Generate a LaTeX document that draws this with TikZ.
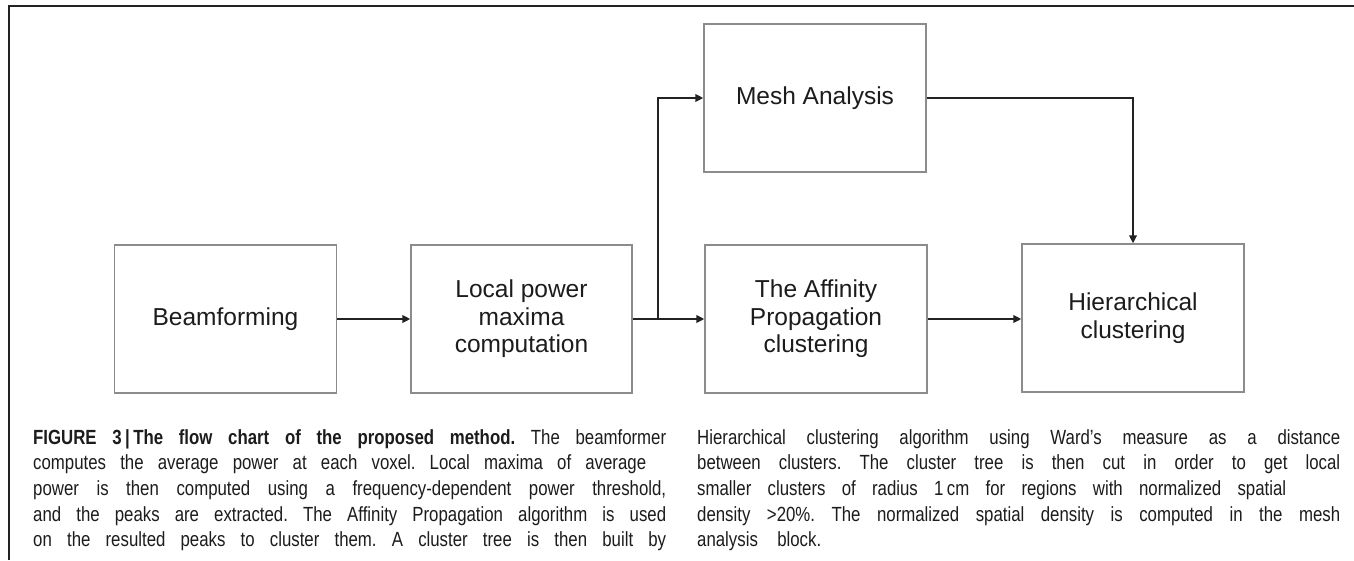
\documentclass[tikz,border=0pt]{standalone}
\usepackage{fontspec}
\setmainfont{Liberation Sans}
\newfontfamily\capfont{Liberation Sans}[FakeStretch=0.82]
\usetikzlibrary{arrows.meta}
\definecolor{boxgray}{HTML}{8C8C8C}
\definecolor{linecol}{HTML}{222222}
\definecolor{txt}{HTML}{1C1C1C}
\frenchspacing
\begin{document}
\begin{tikzpicture}[x=1pt,y=-1pt,
  box/.style={draw=boxgray,line width=1.3pt,minimum width=222pt,minimum height=148pt,inner sep=0pt,align=center,text=txt,font=\fontsize{24.5}{27.5}\selectfont},
  conn/.style={draw=linecol,line width=2pt,-{Triangle[length=8pt,width=7.5pt]}},
  plainline/.style={draw=linecol,line width=2pt},
  capline/.style={anchor=base west,inner sep=0pt,text=txt,font=\capfont\fontsize{20.5}{25.7}\selectfont\frenchspacing}]
\useasboundingbox (0,0) rectangle (1354,560);
\fill[white] (0,0) rectangle (1354,560);
% frame
\coordinate (fbl) at (9,560);
\coordinate (ftl) at (9,6);
\coordinate (ftr) at (1354,6);
\draw[linecol,line width=2pt] (fbl) -- (ftl) -- (ftr);
% boxes
\node[box] (beam) at (225.5,319) {Beamforming};
\node[box,minimum width=221pt] (local) at (521.5,319) {Local power\\maxima\\computation};
\node[box] (mesh) at (815,98) {Mesh Analysis};
\node[box] (aff) at (816,319) {The Affinity\\Propagation\\clustering};
\node[box] (hier) at (1133,318) {Hierarchical\\clustering};
% connectors
\coordinate (br) at (658,319);
\draw[conn] (beam) -- (local);
\draw[plainline] (local.east) -- (br);
\draw[conn] (br) -- (aff.west);
\draw[conn] (br) |- (mesh.west);
\draw[conn] (aff.east) -- (aff.east -| hier.west);
\draw[conn] (mesh.east) -| (hier.north);
% caption, left column
\node[capline] (l1) at (33,444)   {\makebox[633pt][s]{\textbf{FIGURE 3\,|\,The flow chart of the proposed method.} The beamformer}};
\node[capline] (l2) at (33,469.7) {\makebox[613pt][s]{computes the average power at each voxel. Local maxima of average}};
\node[capline] (l3) at (33,495.4) {\makebox[633pt][s]{power is then computed using a frequency-dependent power threshold,}};
\node[capline] (l4) at (33,521.1) {\makebox[633pt][s]{and the peaks are extracted. The Affinity Propagation algorithm is used}};
\node[capline] (l5) at (33,546.8) {\makebox[633pt][s]{on the resulted peaks to cluster them. A cluster tree is then built by}};
% caption, right column
\node[capline] (r1) at (697,444)   {\makebox[643pt][s]{Hierarchical clustering algorithm using Ward’s measure as a distance}};
\node[capline] (r2) at (697,469.7) {\makebox[643pt][s]{between clusters. The cluster tree is then cut in order to get local}};
\node[capline] (r3) at (697,495.4) {\makebox[589pt][s]{smaller clusters of radius 1\,cm for regions with normalized spatial}};
\node[capline] (r4) at (697,521.1) {\makebox[643pt][s]{density \textgreater20\%. The normalized spatial density is computed in the mesh}};
\node[capline] (r5) at (697,546.8) {\makebox[124pt][s]{analysis block.}};
\end{tikzpicture}
\end{document}
